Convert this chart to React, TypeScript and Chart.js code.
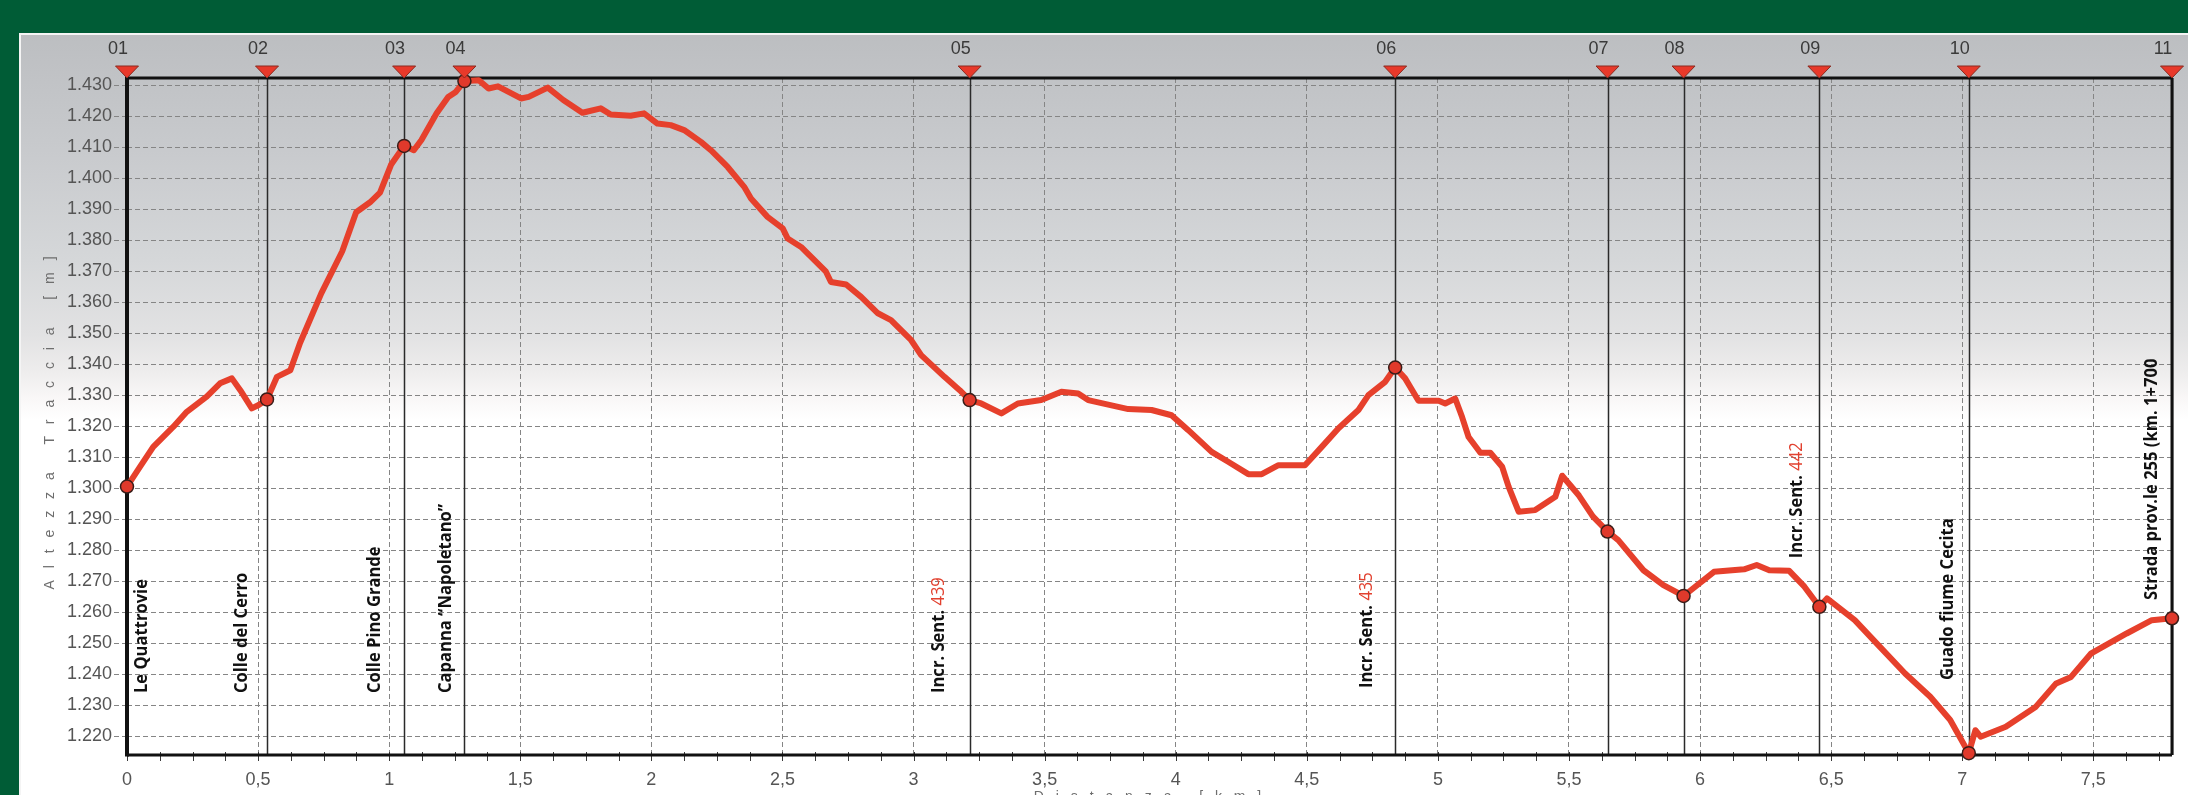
import React, { useEffect, useRef } from 'react';
import { Chart, registerables } from 'chart.js';

Chart.register(...registerables);

// ---------- DATA ----------
const distanceKm = [
  0, 0.05, 0.1, 0.177, 0.228, 0.304, 0.355, 0.4, 0.432, 0.476, 0.502, 0.534, 0.572, 0.623, 0.66,
  0.741, 0.821, 0.874, 0.927, 0.965, 1.007, 1.057, 1.094, 1.123, 1.181, 1.225, 1.254, 1.287, 1.342,
  1.379, 1.415, 1.503, 1.532, 1.605, 1.664, 1.737, 1.807, 1.845, 1.921, 1.972, 2.023, 2.074, 2.125,
  2.189, 2.227, 2.291, 2.354, 2.38, 2.443, 2.501, 2.52, 2.571, 2.666, 2.685, 2.743, 2.8, 2.864,
  2.914, 2.991, 3.029, 3.118, 3.176, 3.214, 3.258, 3.335, 3.398, 3.487, 3.564, 3.628, 3.666, 3.819,
  3.908, 3.984, 4.048, 4.137, 4.2, 4.277, 4.328, 4.392, 4.493, 4.557, 4.621, 4.697, 4.735, 4.799,
  4.837, 4.875, 4.926, 5.003, 5.028, 5.066, 5.092, 5.117, 5.162, 5.2, 5.245, 5.27, 5.308, 5.371,
  5.448, 5.474, 5.538, 5.591, 5.647, 5.688, 5.784, 5.86, 5.937, 6.053, 6.168, 6.216, 6.264, 6.34,
  6.398, 6.455, 6.484, 6.59, 6.686, 6.782, 6.878, 6.954, 7.025, 7.05, 7.07, 7.166, 7.281, 7.358,
  7.415, 7.492, 7.627, 7.723, 7.8,
];
const elevationM = [
  1300.5, 1306.9, 1313.3, 1319.8, 1324.6, 1329.5, 1333.8, 1335.4, 1331.6, 1325.7, 1326.8, 1328.6, 1335.9, 1338, 1346.8,
  1362.8, 1376.4, 1389, 1392.2, 1395.3, 1404.3, 1410.4, 1409, 1412.3, 1420.9, 1426.2, 1427.8, 1431.3, 1431.6,
  1428.9, 1429.6, 1425.7, 1426.2, 1429.2, 1425.2, 1421.1, 1422.5, 1420.5, 1420.1, 1420.9, 1417.6, 1417.1, 1415.5,
  1411.7, 1409, 1403.6, 1397.2, 1393.4, 1387.5, 1383.8, 1380.5, 1377.8, 1369.8, 1366.5, 1365.7, 1361.7, 1356.4,
  1354.2, 1347.7, 1342.9, 1335.9, 1331.6, 1328.4, 1327.3, 1324.1, 1327.3, 1328.4, 1331.1, 1330.5, 1328.4, 1325.5,
  1325.2, 1323.5, 1318.7, 1311.7, 1308.5, 1304.5, 1304.5, 1307.4, 1307.4, 1313.3, 1319.3, 1325.2, 1330, 1334.3,
  1338.9, 1335.4, 1328.2, 1328.2, 1327.3, 1328.9, 1323, 1316.5, 1311.4, 1311.4, 1306.9, 1300.4, 1292.4, 1292.9,
  1297.2, 1304, 1297.6, 1290.9, 1286, 1283.2, 1273.5, 1268.7, 1265.2, 1273, 1273.8, 1275.2, 1273.5, 1273.3,
  1268.2, 1261.7, 1264.4, 1257.4, 1248.8, 1240.2, 1232.7, 1225.2, 1214.5, 1221.9, 1219.8, 1223, 1229.5, 1237,
  1239.1, 1246.7, 1253.1, 1257.4, 1258,
];

const waypointIds = ['01', '02', '03', '04', '05', '06', '07', '08', '09', '10', '11'];
const waypointKm = [0, 0.534, 1.057, 1.287, 3.214, 4.837, 5.647, 5.937, 6.455, 7.025, 7.8];
const waypointElevation = [1300.5, 1328.6, 1410.4, 1431.3, 1328.4, 1338.9, 1286, 1265.2, 1261.7, 1214.5, 1258];
const waypointNames = [
  'Le Quattrovie', 'Colle del Cerro', 'Colle Pino Grande', 'Capanna “Napoletano”',
  'Incr. Sent.', 'Incr. Sent.', '', '', 'Incr. Sent.', 'Guado fiume Cecita', 'Strada prov.le 255 (km. 1+700',
];
const waypointTrailNumbers = ['', '', '', '', '439', '435', '', '', '442', '', ''];
// elevation (m) where each rotated label starts
const waypointLabelBaseM = [1233.9, 1233.9, 1233.9, 1233.9, 1233.9, 1235.5, 0, 0, 1277.4, 1238.1, 1263.9];

const yTickValues = [1220, 1230, 1240, 1250, 1260, 1270, 1280, 1290, 1300, 1310, 1320, 1330, 1340, 1350, 1360, 1370, 1380, 1390, 1400, 1410, 1420, 1430];
const xTickValues = [0, 0.5, 1, 1.5, 2, 2.5, 3, 3.5, 4, 4.5, 5, 5.5, 6, 6.5, 7, 7.5];
const xMinorStep = 0.125;
const xMin = 0;
const xMax = 7.8;
const yMin = 1213.9;
const yMax = 1432.3;

const yTitle = 'A l t e z z a   T r a c c i a   [ m ]';
const xTitle = 'D i s t a n z a   [ k m ]';

// ---------- STYLE / LAYOUT ----------
const W = 2188;
const H = 795;
const GREEN = '#005c36';
const RED = '#e6402c';
const TICK_FONT = "'Liberation Sans', Arial, sans-serif";
const LABEL_FONT = "'Open Sans', 'DejaVu Sans', sans-serif";
const LABEL_SIZE = 18;
const LABEL_STRETCH = 0.92;
const labelOffsetPx = [15, -25, -29, -19, -31, -28, 0, 0, -22, -21, -20];

const fmtThousands = (v: number) => {
  const n = Math.round(v);
  const th = Math.floor(n / 1000);
  const rest = String(n % 1000).padStart(3, '0');
  return th > 0 ? `${th}.${rest}` : String(n);
};

const decorPlugin = {
  id: 'decor',
  beforeDraw(chart: any) {
    const { ctx } = chart;
    ctx.save();
    ctx.fillStyle = GREEN;
    ctx.fillRect(0, 0, W, H);
    const top = 33;
    const g = ctx.createLinearGradient(0, top, 0, H);
    const stop = (y: number, c: string) => g.addColorStop((y - top) / (H - top), c);
    stop(33, '#bcbec1');
    stop(150, '#c8cacd');
    stop(260, '#d5d7d9');
    stop(335, '#e2e2e3');
    stop(372, '#eeeded');
    stop(398, '#f9f7f7');
    stop(420, '#ffffff');
    stop(795, '#ffffff');
    ctx.fillStyle = g;
    ctx.fillRect(20, top, W - 20, H - top);
    ctx.strokeStyle = '#f4f4f4';
    ctx.lineWidth = 2;
    ctx.beginPath();
    ctx.moveTo(20, H);
    ctx.lineTo(20, top + 1);
    ctx.lineTo(W, top + 1);
    ctx.stroke();
    ctx.restore();
  },
  beforeDatasetsDraw(chart: any) {
    const { ctx, chartArea } = chart;
    const xs = chart.scales.x;
    const { left, right, top, bottom } = chartArea;
    ctx.save();
    // waypoint vertical lines
    ctx.strokeStyle = '#2a2a2a';
    ctx.lineWidth = 1.5;
    waypointKm.forEach((km) => {
      const x = Math.round(xs.getPixelForValue(km)) + 0.5;
      ctx.beginPath();
      ctx.moveTo(x, top);
      ctx.lineTo(x, bottom);
      ctx.stroke();
    });
    // minor ticks
    ctx.strokeStyle = '#3a3a3a';
    ctx.lineWidth = 1;
    for (let i = 0; i * xMinorStep <= xMax + 1e-9; i++) {
      const x = Math.round(xs.getPixelForValue(i * xMinorStep)) + 0.5;
      ctx.beginPath();
      ctx.moveTo(x, bottom - 3);
      ctx.lineTo(x, bottom + 6);
      ctx.stroke();
    }
    // frame
    ctx.strokeStyle = '#111';
    ctx.lineWidth = 3;
    ctx.beginPath();
    ctx.moveTo(left, top);
    ctx.lineTo(right, top);
    ctx.moveTo(right, top);
    ctx.lineTo(right, bottom);
    ctx.moveTo(left, bottom);
    ctx.lineTo(right, bottom);
    ctx.stroke();
    ctx.lineWidth = 4;
    ctx.beginPath();
    ctx.moveTo(left, top - 1.5);
    ctx.lineTo(left, bottom + 1.5);
    ctx.stroke();
    ctx.restore();
  },
  afterDatasetsDraw(chart: any) {
    const { ctx, chartArea } = chart;
    const xs = chart.scales.x;
    const ys = chart.scales.y;
    const { top } = chartArea;
    ctx.save();
    // triangles + ids
    waypointKm.forEach((km, i) => {
      const x = xs.getPixelForValue(km);
      ctx.beginPath();
      ctx.moveTo(x - 11.5, top - 12);
      ctx.lineTo(x + 11.5, top - 12);
      ctx.lineTo(x, top);
      ctx.closePath();
      ctx.fillStyle = '#e8392a';
      ctx.fill();
      ctx.strokeStyle = '#8a2a20';
      ctx.lineWidth = 1;
      ctx.stroke();
      ctx.fillStyle = '#3a3a3a';
      ctx.font = `18px ${TICK_FONT}`;
      ctx.textAlign = 'center';
      ctx.textBaseline = 'middle';
      ctx.fillText(waypointIds[i], x - 9, 49);
    });
    // rotated waypoint labels
    waypointKm.forEach((km, i) => {
      const name = waypointNames[i];
      if (!name) return;
      const x = xs.getPixelForValue(km) + labelOffsetPx[i];
      const y = ys.getPixelForValue(waypointLabelBaseM[i]);
      ctx.save();
      ctx.translate(x, y);
      ctx.rotate(-Math.PI / 2);
      ctx.scale(LABEL_STRETCH, 1);
      ctx.textAlign = 'left';
      ctx.textBaseline = 'middle';
      ctx.font = `bold ${LABEL_SIZE}px ${LABEL_FONT}`;
      ctx.fillStyle = '#111';
      const txt = waypointTrailNumbers[i] ? name + ' ' : name;
      ctx.fillText(txt, 0, 0);
      if (waypointTrailNumbers[i]) {
        const w = ctx.measureText(txt).width;
        ctx.font = `${LABEL_SIZE}px ${LABEL_FONT}`;
        ctx.fillStyle = '#e2412f';
        ctx.fillText(waypointTrailNumbers[i], w, 0);
      }
      ctx.restore();
    });
    // axis titles
    ctx.fillStyle = '#6e6e6e';
    ctx.font = `14px ${TICK_FONT}`;
    (ctx as any).letterSpacing = '4px';
    ctx.save();
    ctx.translate(50, 421);
    ctx.rotate(-Math.PI / 2);
    ctx.textAlign = 'center';
    ctx.textBaseline = 'middle';
    ctx.fillText(yTitle, 0, 0);
    ctx.restore();
    ctx.textAlign = 'center';
    ctx.textBaseline = 'alphabetic';
    ctx.fillText(xTitle, (chartArea.left + chartArea.right) / 2, 801);
    ctx.restore();
  },
};

export default function App() {
  const ref = useRef<HTMLCanvasElement>(null);
  useEffect(() => {
    document.body.style.margin = '0';
    const canvas = ref.current!;
    const gridColor = '#858585';
    const chart = new Chart(canvas, {
      type: 'line',
      data: {
        datasets: [
          {
            label: 'Profilo',
            data: distanceKm.map((x, i) => ({ x, y: elevationM[i] })),
            borderColor: RED,
            borderWidth: 6,
            borderJoinStyle: 'round',
            borderCapStyle: 'round',
            pointRadius: 0,
            tension: 0,
            fill: false,
            clip: false,
            order: 2,
          } as any,
          {
            label: 'Waypoint',
            data: waypointKm.map((x, i) => ({ x, y: waypointElevation[i] })),
            showLine: false,
            pointRadius: 6.5,
            pointBackgroundColor: '#e0392b',
            pointBorderColor: '#3a1d19',
            pointBorderWidth: 1.5,
            clip: false,
            order: 1,
          } as any,
        ],
      },
      options: {
        animation: false,
        responsive: false,
        devicePixelRatio: 1,
        events: [],
        layout: { padding: { top: 78, right: 16, left: 0, bottom: 0 } },
        plugins: { legend: { display: false }, tooltip: { enabled: false }, title: { display: false } },
        scales: {
          x: {
            type: 'linear',
            min: xMin,
            max: xMax,
            afterFit: (s: any) => { s.height = 40; },
            afterBuildTicks: (s: any) => { s.ticks = xTickValues.map((value) => ({ value })); },
            ticks: {
              autoSkip: false,
              maxRotation: 0,
              padding: 14,
              color: '#555',
              font: { family: TICK_FONT, size: 18 },
              callback: (v: any) => String(v).replace('.', ','),
            },
            grid: { color: gridColor, lineWidth: 1, drawTicks: false },
            border: { display: false, dash: [5, 3] },
          },
          y: {
            type: 'linear',
            min: yMin,
            max: yMax,
            afterFit: (s: any) => { s.width = 127; },
            afterBuildTicks: (s: any) => { s.ticks = yTickValues.map((value) => ({ value })); },
            ticks: {
              autoSkip: false,
              padding: 2,
              color: '#555',
              font: { family: TICK_FONT, size: 18 },
              callback: (v: any) => fmtThousands(Number(v)),
            },
            grid: { color: gridColor, lineWidth: 1, tickLength: 13, tickColor: gridColor, tickBorderDash: [5, 3] },
            border: { display: false, dash: [5, 3] },
          },
        },
      } as any,
      plugins: [decorPlugin],
    });
    return () => chart.destroy();
  }, []);
  return (
    <div style={{ position: 'fixed', left: 0, top: 0, width: W, height: H, overflow: 'hidden' }}>
      <canvas ref={ref} width={W} height={H} style={{ display: 'block', width: W, height: H }} />
    </div>
  );
}
